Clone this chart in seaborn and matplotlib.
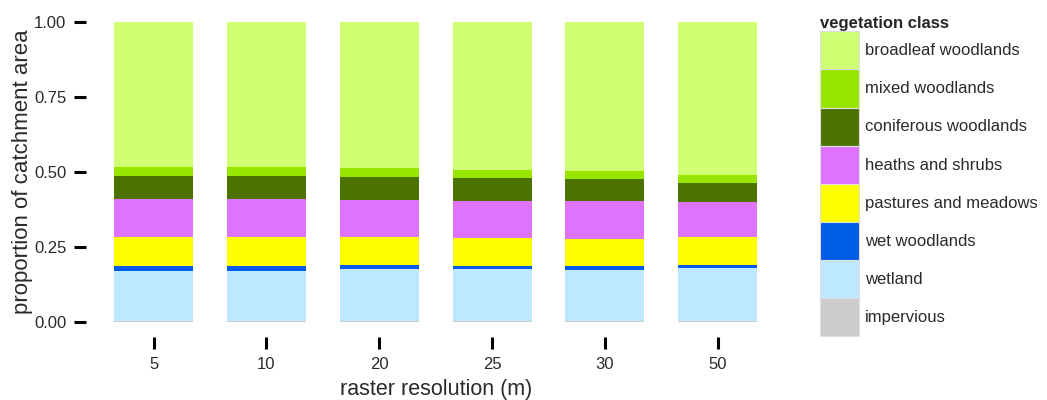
import pandas as pd
import numpy as np
import matplotlib
matplotlib.use("Agg")
import matplotlib.pyplot as plt
from matplotlib.patches import Patch
import seaborn as sns

# raster resolutions (m) and proportion of catchment per vegetation class
resolutions = ["5", "10", "20", "25", "30", "50"]
classes = ["broadleaf woodlands", "mixed woodlands", "coniferous woodlands",
           "heaths and shrubs", "pastures and meadows", "wet woodlands",
           "wetland", "impervious"]
colors = ["#D1FF73", "#98E600", "#4C7300", "#DF73FF",
          "#FFFF00", "#005CE6", "#BEE8FF", "#CCCCCC"]

broadleaf = [0.484, 0.484, 0.488, 0.493, 0.496, 0.509]
mixed = [0.029, 0.029, 0.028, 0.028, 0.028, 0.029]
coniferous = [0.077, 0.078, 0.078, 0.076, 0.072, 0.061]
heaths = [0.127, 0.126, 0.122, 0.123, 0.126, 0.117]
pastures = [0.097, 0.097, 0.095, 0.093, 0.091, 0.093]
wet_woodlands = [0.016, 0.016, 0.013, 0.011, 0.014, 0.010]
wetland = [0.168, 0.168, 0.174, 0.174, 0.171, 0.179]
impervious = [0.002, 0.002, 0.002, 0.002, 0.002, 0.002]


def main():
    values = [broadleaf, mixed, coniferous, heaths, pastures,
              wet_woodlands, wetland, impervious]
    rows = []
    for cls, vals in zip(classes, values):
        for res, v in zip(resolutions, vals):
            rows.append({"resolution": res, "class": cls, "proportion": v})
    df = pd.DataFrame(rows)

    sns.set_style("white")
    plt.rcParams["font.family"] = ["Liberation Sans", "DejaVu Sans"]

    fig = plt.figure(figsize=(10.47, 4.0), dpi=100)
    ax = fig.add_axes([0.0821, 0.1575, 0.668, 0.825])

    sns.histplot(data=df, x="resolution", hue="class", weights="proportion",
                 hue_order=classes, palette=colors, multiple="stack",
                 discrete=True, shrink=0.7, linewidth=0, alpha=1,
                 legend=False, ax=ax)

    ax.set_xlim(-0.6, 5.6)
    ax.set_ylim(-0.05, 1.05)
    ax.set_yticks([0, 0.25, 0.5, 0.75, 1.0])
    ax.set_yticklabels(["0.00", "0.25", "0.50", "0.75", "1.00"])
    ax.set_xticks(range(len(resolutions)))
    ax.set_xticklabels(resolutions)
    sns.despine(ax=ax, left=True, bottom=True)
    ax.tick_params(axis="both", bottom=True, left=True, length=8.6,
                   width=2.2, color="black", labelsize=12,
                   labelcolor="#2a2a2a", pad=5.5)
    ax.set_xlabel("raster resolution (m)", fontsize=15.5, color="#2a2a2a",
                  labelpad=5)
    ax.set_ylabel("proportion of catchment area", fontsize=16,
                  color="#2a2a2a", labelpad=1)

    handles = [Patch(facecolor=c, edgecolor="#DDDDDD", linewidth=0.8,
                     label=l) for l, c in zip(classes, colors)]
    leg = fig.legend(handles=handles, title="vegetation class",
                     loc="upper left", bbox_to_anchor=(0.7755, 0.98),
                     frameon=False, borderpad=0, labelspacing=0,
                     handlelength=2.33, handleheight=3.14,
                     handletextpad=0.35, fontsize=12, alignment="left")
    leg.get_title().set_fontweight("bold")
    leg.get_title().set_fontsize(12)
    for t in leg.get_texts():
        t.set_color("#2a2a2a")

    fig.savefig("out.png", dpi=100)


if __name__ == "__main__":
    main()
